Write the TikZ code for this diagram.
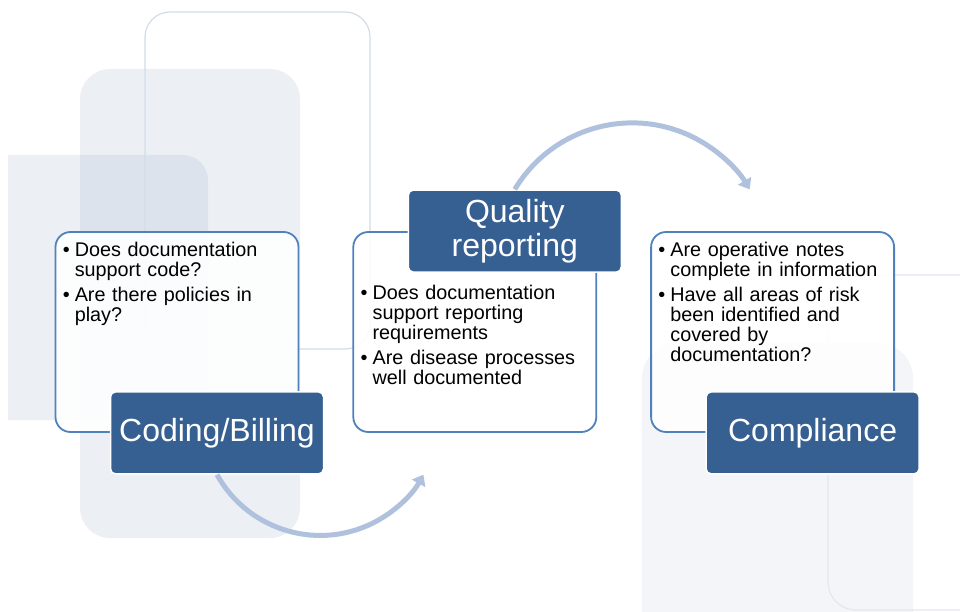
\documentclass[tikz,border=0pt]{standalone}
\usepackage{fontspec}
\setmainfont{Liberation Sans}
\usetikzlibrary{arrows.meta, positioning}
\definecolor{boxline}{RGB}{79,129,189}
\definecolor{titleblue}{RGB}{55,96,146}
\definecolor{arrowblue}{RGB}{176,193,222}
\definecolor{bgtint}{RGB}{136,161,193}
\definecolor{frameline}{RGB}{210,220,232}
\definecolor{framefaint}{RGB}{226,232,239}
\newcommand{\qitem}[1]{\hangindent=12pt\hangafter=1\noindent\makebox[12pt][l]{\textbullet}#1\par}
\tikzset{
  listbox/.style = {
    draw=boxline, line width=1.8pt, rounded corners=15pt, fill=white, fill opacity=0.9,
    minimum width=243pt, minimum height=200pt
  },
  titlebox/.style = {
    draw=white, line width=1.5pt, rounded corners=5pt, fill=titleblue, text=white, align=center,
    minimum width=213pt, minimum height=82pt, inner sep=0pt, font=\fontsize{32pt}{34pt}\selectfont
  },
  bullets/.style = {
    anchor=north west, inner sep=0pt, text width=234pt, align=left,
    font=\fontsize{19.8pt}{20pt}\selectfont, execute at begin node={\setlength{\parskip}{4.7pt}}
  },
  bgshape/.style = {fill=bgtint, fill opacity=0.16},
  arrow/.style = {-{Triangle[length=10pt, width=15pt]}, line width=5pt, draw=arrowblue},
}

\begin{document}
\begin{tikzpicture}[x=1pt, y=1pt]
    \useasboundingbox (0,0) rectangle (960,611);

    % soft shapes behind the cycle
    \begin{scope}
      \clip (0,0) rectangle (960,611);
      \fill[bgshape] (80,73) [rounded corners=30pt] rectangle (300,542);
      \fill[bgshape] (8,191) -- (8,456) [rounded corners=25pt] -- (208,456) [sharp corners] -- (208,191) -- cycle;
      \draw[frameline, line width=1.2pt, rounded corners=25pt] (145,262) rectangle (370,599);
      \fill[bgshape, fill opacity=0.1, rounded corners=35pt] (642,-40) rectangle (913,268);
      \draw[framefaint, line width=1.2pt, rounded corners=28pt] (828,1) rectangle (1000,336);
    \end{scope}

    % question boxes
    \node[listbox] (qa) at (177,279) {};
    \node[listbox, right=53pt of qa] (qb) {};
    \node[listbox, right=53pt of qb] (qc) {};

    \node[bullets] (qatext) at ([xshift=8pt, yshift=-11pt]qa.north west) {%
      \qitem{Does documentation\newline support code?}%
      \qitem{Are there policies in\newline play?}};
    \node[bullets] (qbtext) at ([xshift=8pt, yshift=-54pt]qb.north west) {%
      \qitem{Does documentation\newline support reporting\newline requirements}%
      \qitem{Are disease processes\newline well documented}};
    \node[bullets] (qctext) at ([xshift=8pt, yshift=-11pt]qc.north west) {%
      \qitem{Are operative notes\newline complete in information}%
      \qitem{Have all areas of risk\newline been identified and\newline covered by\newline documentation?}};

    % stage titles
    \node[titlebox] (coding) at ([xshift=40pt]qa.south) {Coding/Billing};
    \node[titlebox] (quality) at ([xshift=40pt]qb.north) {Quality\\reporting};
    \node[titlebox] (compliance) at ([xshift=40pt]qc.south) {Compliance};

    % curved arrows between stages
    \draw[arrow] (coding.south) arc[start angle=209, end angle=331, radius=118];
    \draw[arrow] (quality.north) arc[start angle=149, end angle=31, radius=137];

\end{tikzpicture}
\end{document}
